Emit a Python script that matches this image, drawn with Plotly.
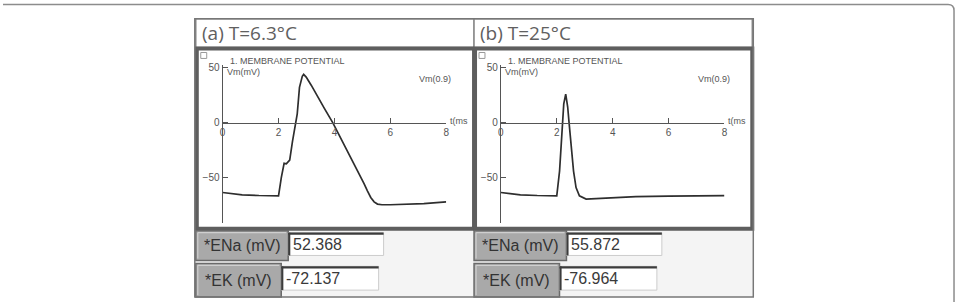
import plotly.graph_objects as go

W, H = 960, 302

# ---------------- data ----------------
t_a = [0.0, 0.7, 1.3, 2.0, 2.1, 2.2, 2.28, 2.4, 2.5, 2.6, 2.67, 2.75, 2.85, 2.9, 2.99,
       3.17, 3.4, 3.64, 3.94, 4.35, 4.83, 5.06, 5.18, 5.3, 5.42, 5.54, 5.7, 6.0, 7.2, 8.0]
v_a = [-63.5, -65.6, -66.2, -66.5, -50.0, -37.0, -37.5, -34.0, -17.0, -2.0, 8.0, 32.0, 42.0, 43.8, 41.4,
       34.0, 23.4, 12.9, 0.0, -20.0, -44.0, -55.5, -62.0, -68.0, -72.0, -74.0, -74.6, -74.6, -73.5, -72.0]

t_b = [0.0, 0.7, 1.3, 2.0, 2.1, 2.19, 2.25, 2.32, 2.39, 2.44, 2.51, 2.6, 2.69, 2.81,
       3.05, 3.64, 4.83, 6.0, 8.0]
v_b = [-63.5, -65.6, -66.2, -66.5, -44.0, 0.0, 17.0, 25.8, 14.4, 0.0, -17.0, -44.0, -59.0, -66.5,
       -69.5, -68.6, -67.2, -66.8, -66.3]

x_ticks = [0, 2, 4, 6, 8]
y_ticks = [-50, 0, 50]
panel_titles = ["(a) T=6.3°C", "(b) T=25°C"]
ena_values = ["52.368", "55.872"]
ek_values = ["-72.137", "-76.964"]
button_labels = ["*ENa (mV)", "*EK (mV)"]
plot_title = "1. MEMBRANE POTENTIAL"
y_label = "Vm(mV)"
x_label = "t(ms"
series_label = "Vm(0.9)"

# ---------------- helpers ----------------
def fx(x):
    return x / W

def fy(y):
    return 1 - y / H

shapes = []
annotations = []

def rect(x0, y0, x1, y1, fill=None, line="rgba(0,0,0,0)", lw=0, layer="below"):
    shapes.append(dict(type="rect", xref="paper", yref="paper",
                       x0=fx(x0), y0=fy(y1), x1=fx(x1), y1=fy(y0),
                       fillcolor=fill if fill else "rgba(0,0,0,0)",
                       line=dict(color=line, width=lw), layer=layer))

def seg(x0, y0, x1, y1, color, lw, layer="below"):
    shapes.append(dict(type="line", xref="paper", yref="paper",
                       x0=fx(x0), y0=fy(y0), x1=fx(x1), y1=fy(y1),
                       line=dict(color=color, width=lw), layer=layer))

def text(x, y, s, size, color="#444", family="Arial, Liberation Sans", xanchor="left", yanchor="middle"):
    annotations.append(dict(x=fx(x), y=fy(y), xref="paper", yref="paper", text=s,
                            showarrow=False, xanchor=xanchor, yanchor=yanchor,
                            font=dict(size=size, color=color, family=family)))

NARROW = "Liberation Sans Narrow, Arial Narrow, Liberation Sans, Arial"

# page frame (top line + rounded right corner)
shapes.append(dict(type="path", xref="paper", yref="paper",
                   path=f"M {fx(0)},{fy(1.5)} L {fx(951)},{fy(1.5)} Q {fx(957)},{fy(1.5)} {fx(957)},{fy(7.5)} L {fx(957)},{fy(303)}",
                   line=dict(color="#8c8c8c", width=1.5), layer="below"))

fig = go.Figure()

for i, (tt, vv) in enumerate([(t_a, v_a), (t_b, v_b)]):
    dx = 280 * i
    # title box
    rect(194 + dx, 16, 474 + dx, 45, fill="white", line="#8a8a8a", lw=1.5)
    text(198 + dx, 30.5, panel_titles[i], 19, color="#606060", family="Open Sans, Noto Sans")
    # bottom control area
    rect(194 + dx, 229, 474 + dx, 297, fill="#f4f4f4")
    # plot window
    rect(195 + dx, 46, 474 + dx, 228, fill="white", line="#5e5e5e", lw=4)
    rect(199 + dx, 50, 205 + dx, 56, fill="white", line="#9a9a9a", lw=1)
    text(226 + dx, 58.5, plot_title, 9, color="#555", family=NARROW)
    text(223 + dx, 70, y_label, 9, color="#555", family=NARROW)
    text(417 + dx, 77, series_label, 9, color="#555", family=NARROW)
    text(448 + dx, 119, x_label, 9, color="#555", family=NARROW)

    # buttons and text boxes
    for (bx0, by0, bx1, by1), (tx0, ty0, tx1, ty1), lab, val in [
        ((194, 230, 287, 260), (287, 232, 383, 255), button_labels[0], ena_values[i]),
        ((194, 263, 280, 297), (280, 266, 378, 290), button_labels[1], ek_values[i]),
    ]:
        rect(bx0 + dx, by0, bx1 + dx, by1, fill="#a9a9a9", line="#6a6a6a", lw=1.5)
        seg(bx0 + dx + 2, by0 + 2, bx1 + dx - 2, by0 + 2, "#cfcfcf", 1.2)
        seg(bx0 + dx + 2, by0 + 2, bx0 + dx + 2, by1 - 2, "#cfcfcf", 1.2)
        text((bx0 + bx1) / 2 + dx, (by0 + by1) / 2, lab, 16, color="#333", family=NARROW, xanchor="center")
        rect(tx0 + dx, ty0, tx1 + dx, ty1, fill="white", line="#cccccc", lw=1)
        seg(tx0 + dx, ty0 + 1, tx1 + dx, ty0 + 1, "#3c3c3c", 2.2)
        seg(tx0 + dx + 1, ty0, tx0 + dx + 1, ty1, "#3c3c3c", 2.2)
        text(tx0 + dx + 3, (ty0 + ty1) / 2 + 0.5, val, 16, color="#3a3a3a", family=NARROW)

    xa = "x%d" % (i + 2)
    ya = "y%d" % (i + 2)
    fig.add_trace(go.Scatter(x=tt, y=vv, mode="lines", xaxis=xa, yaxis=ya,
                             line=dict(color="#2e2e2e", width=1.7), showlegend=False,
                             hoverinfo="skip"))
    axfont = dict(size=10, color="#555", family=NARROW)
    fig.layout["xaxis%d" % (i + 2)] = dict(
        domain=[fx(221 + dx), fx(446 + dx)], range=[0, 8], anchor="free", position=fy(121),
        showline=True, linecolor="#555", linewidth=1.2, ticks="inside", ticklen=5,
        tickcolor="#555", tickwidth=1.2, tickvals=x_ticks, showgrid=False, zeroline=False,
        tickfont=axfont, fixedrange=True)
    fig.layout["yaxis%d" % (i + 2)] = dict(
        domain=[fy(222), fy(63)], range=[-91, 52], anchor=xa,
        showline=True, linecolor="#555", linewidth=1.2, ticks="inside", ticklen=5,
        tickcolor="#555", tickwidth=1.2, tickvals=y_ticks, showgrid=False, zeroline=False,
        tickfont=axfont, fixedrange=True)

# outer frame of the whole figure
rect(193, 16, 755, 297, line="#777777", lw=1.5, layer="below")

fig.update_layout(
    width=W, height=H, margin=dict(l=0, r=0, t=0, b=0),
    paper_bgcolor="white", plot_bgcolor="rgba(0,0,0,0)",
    xaxis=dict(visible=False), yaxis=dict(visible=False),
    shapes=shapes, annotations=annotations, showlegend=False,
)

fig.write_html("out.html", config={"displayModeBar": False})
